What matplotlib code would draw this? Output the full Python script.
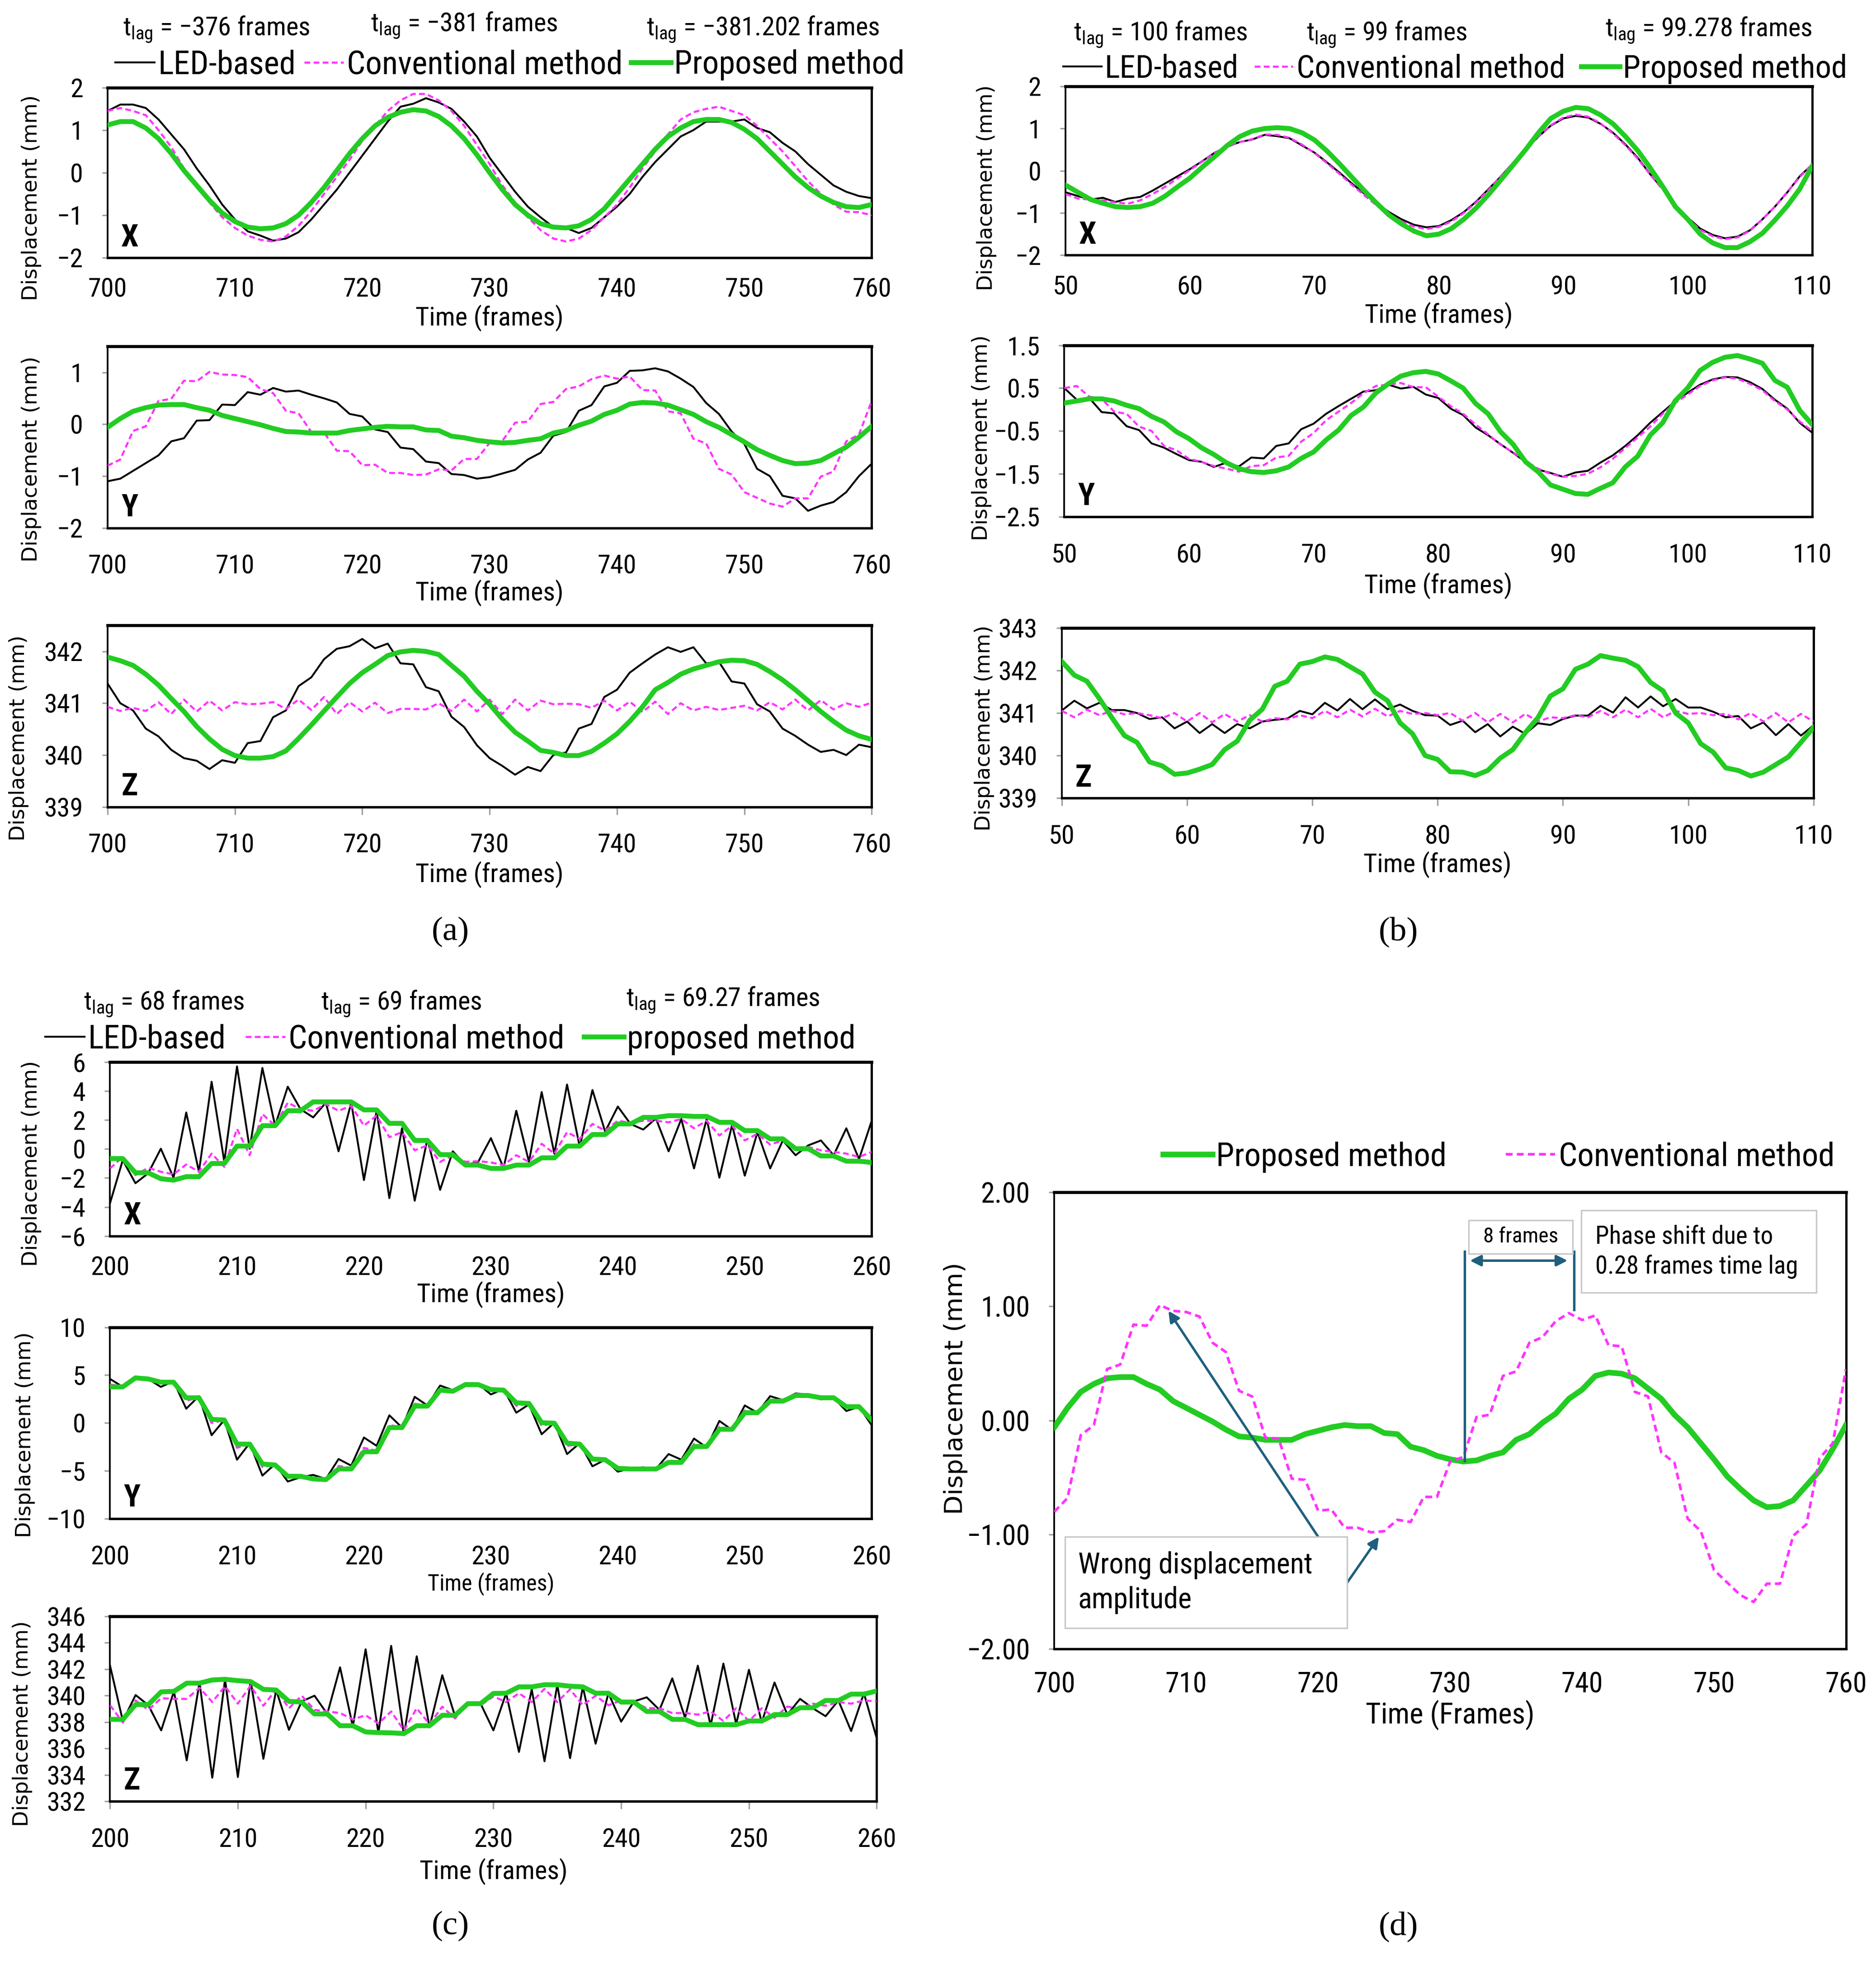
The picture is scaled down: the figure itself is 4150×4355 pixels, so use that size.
import numpy as np
import matplotlib
matplotlib.use("Agg")
import matplotlib.pyplot as plt
from matplotlib import font_manager
from matplotlib.patches import Rectangle
from matplotlib.ticker import FuncFormatter

# ---------------- data ----------------
frames_a = np.arange(700, 761)
frames_b = np.arange(50, 111)
frames_c = np.arange(200, 261)

# (a) X
a_x_led = [1.45, 1.60, 1.60, 1.52, 1.25, 0.90, 0.55, 0.10, -0.30, -0.75,
           -1.10, -1.38, -1.48, -1.60, -1.55, -1.40, -1.10, -0.75, -0.40, 0.00,
           0.40, 0.80, 1.20, 1.55, 1.62, 1.75, 1.65, 1.50, 1.20, 0.85,
           0.35, -0.05, -0.45, -0.80, -1.05, -1.28, -1.30, -1.42, -1.30, -1.05,
           -0.80, -0.50, -0.10, 0.25, 0.55, 0.85, 1.00, 1.20, 1.20, 1.20,
           1.25, 1.05, 0.95, 0.70, 0.50, 0.20, -0.05, -0.30, -0.45, -0.55,
           -0.60]
a_x_conv = [1.45, 1.52, 1.45, 1.35, 1.00, 0.60, 0.10, -0.35, -0.70, -1.05,
            -1.30, -1.48, -1.58, -1.62, -1.50, -1.25, -0.90, -0.50, -0.10, 0.30,
            0.75, 1.10, 1.45, 1.70, 1.85, 1.85, 1.70, 1.45, 1.10, 0.65,
            0.20, -0.30, -0.70, -1.05, -1.35, -1.55, -1.62, -1.55, -1.35, -1.05,
            -0.75, -0.35, 0.10, 0.50, 0.90, 1.25, 1.42, 1.50, 1.55, 1.45,
            1.35, 1.10, 0.80, 0.50, 0.15, -0.20, -0.50, -0.75, -0.92, -0.93,
            -1.00]
a_x_prop = [1.12, 1.20, 1.20, 1.05, 0.80, 0.45, 0.05, -0.30, -0.65, -0.95,
            -1.15, -1.28, -1.32, -1.30, -1.20, -1.00, -0.70, -0.35, 0.05, 0.45,
            0.80, 1.10, 1.30, 1.42, 1.48, 1.45, 1.32, 1.10, 0.80, 0.42,
            0.00, -0.40, -0.75, -1.00, -1.20, -1.28, -1.30, -1.25, -1.10, -0.85,
            -0.50, -0.15, 0.20, 0.55, 0.85, 1.05, 1.20, 1.25, 1.25, 1.18,
            1.02, 0.80, 0.50, 0.20, -0.10, -0.35, -0.55, -0.70, -0.80, -0.82,
            -0.75]
# (a) Y  (conventional / proposed are also the curves of panel (d))
a_y_led = [-1.10, -1.05, -0.90, -0.75, -0.60, -0.33, -0.27, 0.07, 0.08, 0.38,
           0.37, 0.62, 0.57, 0.70, 0.63, 0.65, 0.57, 0.50, 0.42, 0.20,
           0.15, -0.10, -0.15, -0.45, -0.48, -0.72, -0.75, -0.96, -0.98, -1.05,
           -1.02, -0.95, -0.88, -0.68, -0.55, -0.22, -0.15, 0.26, 0.37, 0.73,
           0.80, 1.03, 1.04, 1.08, 1.02, 0.88, 0.72, 0.41, 0.20, -0.14,
           -0.38, -0.86, -1.00, -1.38, -1.43, -1.67, -1.57, -1.50, -1.31, -1.00,
           -0.76]
a_y_conv = [-0.80, -0.68, -0.13, -0.04, 0.45, 0.49, 0.84, 0.83, 1.01, 0.96,
            0.95, 0.91, 0.68, 0.60, 0.26, 0.21, -0.15, -0.16, -0.51, -0.52,
            -0.79, -0.78, -0.94, -0.94, -0.98, -0.97, -0.87, -0.89, -0.67, -0.67,
            -0.36, -0.32, 0.03, 0.05, 0.39, 0.43, 0.68, 0.73, 0.87, 0.94,
            0.88, 0.92, 0.66, 0.65, 0.25, 0.21, -0.28, -0.37, -0.86, -0.97,
            -1.31, -1.42, -1.53, -1.59, -1.43, -1.43, -1.01, -0.91, -0.33, -0.20,
            0.45]
a_y_prop = [-0.06, 0.11, 0.25, 0.32, 0.37, 0.38, 0.38, 0.32, 0.27, 0.17,
            0.11, 0.05, -0.01, -0.08, -0.14, -0.15, -0.17, -0.17, -0.17, -0.12,
            -0.09, -0.06, -0.04, -0.05, -0.05, -0.11, -0.12, -0.23, -0.26, -0.31,
            -0.34, -0.36, -0.35, -0.31, -0.28, -0.17, -0.12, -0.02, 0.06, 0.19,
            0.27, 0.39, 0.42, 0.41, 0.37, 0.28, 0.19, 0.05, -0.06, -0.20,
            -0.34, -0.49, -0.60, -0.70, -0.76, -0.75, -0.70, -0.57, -0.44, -0.25,
            -0.04]
# (a) Z
a_z_led = [341.38, 341.00, 340.86, 340.51, 340.36, 340.10, 339.94, 339.89, 339.73, 339.90,
           339.85, 340.23, 340.27, 340.73, 340.86, 341.33, 341.50, 341.85, 342.05, 342.10,
           342.24, 342.06, 342.15, 341.77, 341.75, 341.31, 341.23, 340.74, 340.54, 340.19,
           339.94, 339.79, 339.62, 339.77, 339.69, 340.00, 340.05, 340.51, 340.60, 341.12,
           341.26, 341.59, 341.77, 341.94, 342.08, 341.99, 342.08, 341.77, 341.80, 341.42,
           341.38, 340.98, 340.84, 340.51, 340.37, 340.20, 340.06, 340.10, 340.00, 340.20,
           340.15]
a_z_conv = [340.93, 340.85, 340.91, 340.85, 341.02, 340.79, 341.07, 340.84, 341.05, 340.86,
            341.02, 340.98, 340.99, 341.02, 340.89, 341.07, 340.87, 341.12, 340.79, 341.02,
            340.84, 341.01, 340.81, 340.89, 340.89, 340.88, 341.00, 340.85, 341.07, 340.84,
            341.07, 340.79, 341.07, 340.86, 341.05, 340.98, 340.99, 340.98, 340.91, 341.05,
            340.86, 341.03, 340.83, 341.03, 340.79, 341.00, 340.86, 340.93, 340.87, 340.91,
            340.95, 340.86, 341.02, 340.88, 341.07, 340.86, 341.06, 340.88, 341.00, 340.93,
            341.01]
a_z_prop = [341.89, 341.82, 341.73, 341.56, 341.35, 341.09, 340.84, 340.55, 340.31, 340.11,
            339.99, 339.94, 339.94, 339.97, 340.08, 340.32, 340.58, 340.85, 341.12, 341.38,
            341.59, 341.75, 341.92, 341.99, 342.02, 342.00, 341.94, 341.73, 341.52, 341.23,
            340.98, 340.69, 340.44, 340.27, 340.09, 340.05, 339.99, 339.99, 340.07, 340.23,
            340.41, 340.65, 340.93, 341.26, 341.40, 341.56, 341.66, 341.73, 341.80, 341.83,
            341.82, 341.75, 341.61, 341.45, 341.26, 341.05, 340.84, 340.65, 340.48, 340.37,
            340.30]

# (b) X
b_x_led = [-0.51, -0.60, -0.68, -0.64, -0.74, -0.66, -0.62, -0.47, -0.30, -0.13,
           0.04, 0.23, 0.43, 0.57, 0.68, 0.74, 0.85, 0.82, 0.77, 0.60,
           0.43, 0.20, -0.04, -0.30, -0.54, -0.77, -0.98, -1.15, -1.28, -1.34,
           -1.31, -1.17, -0.98, -0.73, -0.43, -0.13, 0.20, 0.51, 0.81, 1.07,
           1.24, 1.30, 1.26, 1.11, 0.90, 0.62, 0.30, -0.09, -0.43, -0.81,
           -1.11, -1.37, -1.52, -1.60, -1.56, -1.41, -1.15, -0.85, -0.51, -0.13,
           0.15]
b_x_conv = [-0.55, -0.66, -0.68, -0.70, -0.75, -0.78, -0.70, -0.55, -0.38, -0.18,
            0.02, 0.22, 0.42, 0.58, 0.68, 0.75, 0.86, 0.85, 0.78, 0.62,
            0.42, 0.18, -0.07, -0.33, -0.58, -0.82, -1.03, -1.20, -1.32, -1.38,
            -1.33, -1.20, -1.00, -0.75, -0.45, -0.12, 0.20, 0.53, 0.82, 1.08,
            1.26, 1.33, 1.28, 1.12, 0.88, 0.60, 0.28, -0.10, -0.45, -0.83,
            -1.13, -1.40, -1.55, -1.62, -1.58, -1.42, -1.15, -0.85, -0.50, -0.15,
            0.15]
b_x_prop = [-0.34, -0.51, -0.68, -0.77, -0.85, -0.87, -0.85, -0.77, -0.60, -0.38,
            -0.17, 0.09, 0.34, 0.60, 0.81, 0.94, 1.00, 1.02, 1.00, 0.90,
            0.73, 0.47, 0.17, -0.15, -0.47, -0.77, -1.05, -1.26, -1.43, -1.54,
            -1.50, -1.37, -1.15, -0.88, -0.56, -0.21, 0.15, 0.51, 0.90, 1.24,
            1.41, 1.50, 1.47, 1.32, 1.11, 0.81, 0.47, 0.06, -0.38, -0.85,
            -1.15, -1.50, -1.71, -1.82, -1.82, -1.68, -1.48, -1.17, -0.83, -0.43,
            0.11]
# (b) Y
b_y_led = [0.50, 0.23, 0.27, -0.06, -0.09, -0.39, -0.48, -0.79, -0.89, -1.04,
           -1.18, -1.22, -1.34, -1.24, -1.33, -1.12, -1.14, -0.85, -0.79, -0.46,
           -0.33, -0.10, 0.08, 0.25, 0.42, 0.45, 0.58, 0.49, 0.53, 0.35,
           0.27, 0.02, -0.13, -0.42, -0.60, -0.81, -1.01, -1.22, -1.40, -1.48,
           -1.57, -1.47, -1.43, -1.24, -1.07, -0.85, -0.60, -0.31, -0.06, 0.19,
           0.39, 0.58, 0.70, 0.76, 0.75, 0.64, 0.48, 0.23, 0.02, -0.31,
           -0.54]
b_y_conv = [0.50, 0.55, 0.30, 0.25, -0.05, -0.10, -0.40, -0.50, -0.85, -0.95,
            -1.15, -1.22, -1.32, -1.38, -1.45, -1.32, -1.30, -1.12, -1.08, -0.75,
            -0.55, -0.25, -0.05, 0.15, 0.38, 0.55, 0.58, 0.62, 0.52, 0.52,
            0.30, 0.08, -0.10, -0.35, -0.58, -0.82, -1.00, -1.20, -1.38, -1.50,
            -1.57, -1.55, -1.50, -1.35, -1.15, -0.90, -0.65, -0.40, -0.10, 0.15,
            0.35, 0.55, 0.68, 0.75, 0.72, 0.60, 0.45, 0.20, 0.00, -0.28,
            -0.50]
b_y_prop = [0.15, 0.20, 0.25, 0.25, 0.20, 0.10, 0.02, -0.16, -0.29, -0.52,
            -0.68, -0.89, -1.05, -1.24, -1.38, -1.45, -1.47, -1.43, -1.34, -1.14,
            -0.99, -0.71, -0.48, -0.14, 0.06, 0.39, 0.60, 0.78, 0.86, 0.89,
            0.83, 0.67, 0.50, 0.14, -0.10, -0.52, -0.81, -1.22, -1.45, -1.76,
            -1.86, -1.96, -1.98, -1.84, -1.71, -1.34, -1.09, -0.60, -0.31, 0.20,
            0.50, 0.91, 1.10, 1.22, 1.26, 1.18, 1.08, 0.68, 0.52, -0.02,
            -0.35]
# (b) Z
b_z_led = [341.06, 341.29, 341.11, 341.24, 341.07, 341.07, 341.00, 340.86, 340.90, 340.64,
           340.80, 340.53, 340.74, 340.53, 340.74, 340.64, 340.80, 340.84, 340.87, 341.05,
           340.97, 341.24, 341.06, 341.33, 341.09, 341.32, 341.09, 341.20, 341.05, 340.95,
           340.94, 340.72, 340.82, 340.55, 340.74, 340.45, 340.68, 340.51, 340.76, 340.72,
           340.86, 340.94, 340.94, 341.17, 341.01, 341.37, 341.13, 341.39, 341.16, 341.33,
           341.13, 341.13, 341.03, 340.90, 340.93, 340.64, 340.78, 340.48, 340.74, 340.47,
           340.71]
b_z_conv = [341.05, 340.90, 341.08, 340.95, 341.05, 340.97, 341.00, 340.95, 340.88, 341.00,
            340.80, 341.00, 340.78, 340.98, 340.80, 340.95, 340.80, 340.88, 340.85, 340.95,
            340.88, 341.05, 340.90, 341.08, 340.92, 341.10, 340.92, 341.05, 340.98, 341.00,
            340.95, 341.00, 340.82, 341.00, 340.78, 340.98, 340.78, 340.98, 340.80, 340.90,
            340.88, 340.95, 340.90, 341.05, 340.90, 341.08, 340.90, 341.10, 340.90, 341.05,
            340.98, 341.00, 340.95, 340.98, 340.85, 341.00, 340.80, 341.00, 340.78, 340.98,
            340.80]
b_z_prop = [342.21, 341.89, 341.75, 341.34, 340.89, 340.47, 340.31, 339.85, 339.76, 339.56,
            339.59, 339.68, 339.79, 340.14, 340.34, 340.83, 341.09, 341.63, 341.75, 342.15,
            342.21, 342.32, 342.26, 342.09, 341.92, 341.49, 341.29, 340.77, 340.51, 340.00,
            339.91, 339.62, 339.61, 339.53, 339.65, 339.94, 340.14, 340.54, 340.89, 341.40,
            341.57, 342.03, 342.15, 342.35, 342.29, 342.24, 342.09, 341.72, 341.52, 341.00,
            340.77, 340.28, 340.08, 339.71, 339.65, 339.52, 339.61, 339.79, 339.97, 340.31,
            340.66]

# (c) X
c_x_led = [-3.73, -0.77, -2.36, -1.68, 0.02, -1.98, 2.52, -1.57, 4.64, -0.89,
           5.70, 0.02, 5.59, 1.61, 4.30, 2.75, 2.18, 3.20, -0.16, 3.20,
           -2.14, 2.64, -3.39, 1.43, -3.57, 0.70, -2.82, -0.16, -1.11, -0.89,
           0.75, -1.30, 2.64, -0.89, 3.93, -0.32, 4.45, 0.14, 4.07, 1.20,
           2.93, 1.73, 1.34, 2.11, -0.16, 2.07, -1.34, 2.07, -1.98, 1.66,
           -1.84, 1.16, -1.34, 0.59, -0.43, 0.25, 0.59, -0.43, 1.43, -0.70,
           1.95]
c_x_conv = [-1.34, -0.55, -1.80, -1.30, -1.57, -1.75, -1.07, -1.57, -0.32, -1.23,
            1.39, -0.43, 2.41, 1.61, 3.20, 2.75, 2.64, 3.09, 2.64, 2.98,
            1.61, 2.30, 0.82, 1.16, -0.09, 0.25, -0.89, -0.43, -0.89, -0.84,
            -0.93, -1.11, -0.43, -0.89, 0.36, -0.32, 1.16, 0.70, 1.73, 1.27,
            1.95, 1.80, 1.95, 1.95, 1.84, 2.07, 1.43, 1.95, 0.93, 1.61,
            0.59, 1.05, 0.30, 0.59, 0.02, 0.14, -0.09, -0.20, -0.32, -0.55,
            -0.20]
c_x_prop = [-0.66, -0.66, -1.64, -1.64, -2.05, -2.15, -1.91, -1.91, -1.00, -1.00,
            0.20, 0.20, 1.61, 1.61, 2.64, 2.64, 3.25, 3.25, 3.25, 3.25,
            2.70, 2.70, 1.77, 1.77, 0.59, 0.59, -0.39, -0.39, -1.11, -1.11,
            -1.34, -1.34, -1.11, -1.11, -0.61, -0.61, 0.20, 0.20, 1.00, 1.00,
            1.73, 1.73, 2.18, 2.18, 2.30, 2.30, 2.25, 2.25, 1.84, 1.84,
            1.27, 1.27, 0.70, 0.70, 0.02, 0.02, -0.48, -0.48, -0.84, -0.84,
            -0.93]
# (c) Y
c_y_led = [4.60, 3.77, 4.81, 4.60, 3.77, 4.36, 1.49, 2.80, -1.28, 0.31,
           -3.84, -2.11, -5.50, -4.29, -6.12, -5.67, -5.43, -5.85, -3.77, -4.46,
           -1.52, -2.39, 0.80, -0.48, 2.73, 1.83, 3.91, 3.43, 4.12, 4.08,
           2.98, 3.56, 1.07, 1.94, -1.18, 0.03, -3.25, -2.11, -4.53, -3.84,
           -5.09, -4.74, -4.64, -4.81, -3.25, -3.84, -1.63, -2.56, 0.21, -0.73,
           1.83, 1.07, 2.80, 2.39, 3.08, 2.98, 2.46, 2.63, 1.25, 1.70,
           -0.24]
c_y_conv = [4.00, 3.90, 4.70, 4.60, 4.10, 4.30, 2.30, 2.70, 0.00, 0.30,
            -2.60, -2.20, -4.60, -4.40, -5.70, -5.60, -5.70, -5.90, -4.50, -4.70,
            -2.60, -2.90, -0.20, -0.50, 2.00, 1.80, 3.60, 3.40, 4.00, 4.00,
            3.30, 3.50, 1.80, 2.00, -0.30, 0.00, -2.40, -2.20, -4.00, -3.80,
            -4.80, -4.80, -4.80, -4.80, -3.90, -4.10, -2.20, -2.50, -0.40, -0.70,
            1.30, 1.10, 2.40, 2.30, 2.90, 2.90, 2.60, 2.60, 1.60, 1.70,
            0.20]
c_y_prop = [3.77, 3.77, 4.71, 4.60, 4.26, 4.26, 2.63, 2.63, 0.38, 0.31,
            -2.21, -2.21, -4.29, -4.39, -5.57, -5.57, -5.85, -5.92, -4.81, -4.81,
            -3.01, -3.01, -0.48, -0.48, 1.76, 1.76, 3.43, 3.32, 4.01, 4.01,
            3.49, 3.43, 2.11, 2.04, 0.03, -0.03, -2.11, -2.21, -3.77, -3.84,
            -4.74, -4.81, -4.81, -4.81, -4.12, -4.12, -2.46, -2.46, -0.66, -0.66,
            1.07, 1.07, 2.28, 2.28, 2.87, 2.87, 2.63, 2.63, 1.70, 1.70,
            0.31]
# (c) Z
c_z_led = [342.26, 338.08, 340.04, 339.27, 337.37, 340.32, 335.10, 341.00, 333.79, 341.23,
           333.84, 341.13, 335.22, 340.42, 337.41, 339.56, 339.99, 338.61, 342.14, 337.65,
           343.50, 337.18, 343.76, 337.01, 342.97, 337.60, 341.54, 338.44, 339.39, 339.39,
           337.37, 340.18, 335.74, 340.47, 335.03, 340.82, 335.27, 340.66, 336.36, 340.18,
           338.03, 339.56, 339.87, 338.92, 341.30, 338.32, 342.26, 337.72, 342.42, 337.84,
           341.95, 337.96, 340.99, 338.56, 339.75, 339.04, 338.44, 339.63, 337.32, 340.18,
           336.77]
c_z_conv = [339.27, 337.96, 339.63, 338.92, 339.80, 339.75, 339.75, 340.59, 339.51, 340.71,
            339.39, 340.75, 339.23, 340.47, 339.04, 339.99, 338.92, 338.80, 338.68, 338.20,
            338.51, 337.89, 338.80, 337.37, 339.04, 337.84, 339.16, 338.27, 339.39, 339.27,
            339.94, 339.51, 340.18, 339.51, 340.51, 339.51, 340.47, 339.27, 339.99, 339.27,
            339.63, 339.51, 339.04, 339.04, 338.68, 338.68, 338.56, 338.80, 338.08, 339.04,
            338.08, 339.04, 338.32, 339.16, 339.04, 339.39, 339.23, 339.51, 339.39, 339.63,
            339.56]
c_z_prop = [338.20, 338.20, 339.32, 339.32, 340.28, 340.32, 340.94, 340.94, 341.18, 341.23,
            341.13, 341.06, 340.47, 340.42, 339.56, 339.51, 338.61, 338.61, 337.72, 337.72,
            337.25, 337.20, 337.18, 337.13, 337.72, 337.72, 338.51, 338.51, 339.39, 339.39,
            340.16, 340.18, 340.66, 340.66, 340.82, 340.82, 340.71, 340.66, 340.18, 340.18,
            339.51, 339.51, 338.80, 338.80, 338.20, 338.20, 337.80, 337.80, 337.80, 337.80,
            338.08, 338.08, 338.56, 338.56, 339.08, 339.08, 339.63, 339.63, 340.11, 340.11,
            340.35]

lags_a = ["\u2212376", "\u2212381", "\u2212381.202"]
lags_b = ["100", "99", "99.278"]
lags_c = ["68", "69", "69.27"]
labels_abc = ["LED-based", "Conventional method", "Proposed method"]
labels_c = ["LED-based", "Conventional method", "proposed method"]

# ---------------- fonts: prefer a condensed face (the original uses one) ----------------
entries = font_manager.fontManager.ttflist
fam_names = {f.name for f in entries}
NARROW, STRETCH, FS = None, "normal", 1.0
for cand, k in (("Liberation Sans Narrow", 1.0), ("Roboto Condensed", 1.0),
                ("Noto Sans Condensed", 1.0), ("Open Sans Condensed", 1.0)):
    if cand in fam_names:
        NARROW, FS = cand, k
        break
if NARROW is None:
    for fam in ("Noto Sans", "Roboto", "Open Sans"):
        cond = [f for f in entries if f.name == fam and f.stretch in ("condensed", "semi-condensed")]
        if cond:
            NARROW, STRETCH, FS = fam, cond[0].stretch, 1.0
            break
if NARROW is None:
    NARROW, FS = "Liberation Sans", 0.84

plt.rcParams["font.family"] = [NARROW, "DejaVu Sans"]
plt.rcParams["font.stretch"] = STRETCH
plt.rcParams["mathtext.fontset"] = "custom"
plt.rcParams["mathtext.rm"] = f"{NARROW}:stretch={STRETCH}"
plt.rcParams["mathtext.it"] = f"{NARROW}:stretch={STRETCH}"
plt.rcParams["axes.unicode_minus"] = True

LED_C = "black"
CONV_C = "#ff33ff"
PROP_C = "#22cc22"
TEAL = "#1f5f7d"

W, H = 1500.0, 1574.0          # layout grid in reference pixels


def fx(x):
    return x / W


def fy(y):
    return 1 - y / H


fig = plt.figure(figsize=(4150 / 300, 4355 / 300), dpi=300)


def style_axes(ax, xtick_len, size=14, xpad=14):
    for side, lw in (("top", 1.6), ("bottom", 1.3), ("left", 0.9), ("right", 1.2)):
        ax.spines[side].set_linewidth(lw)
        ax.spines[side].set_color("black")
    ax.tick_params(axis="y", length=3, width=0.8, color="#a0a0a0", pad=10, labelsize=size * FS)
    ax.tick_params(axis="x", length=xtick_len, width=0.8, color="#a0a0a0",
                   pad=xpad - xtick_len, labelsize=size * FS)


def draw_panel(pos, t, led, conv, prop, ylim, yticks, letter, xlabel_y, ylabel_xy,
               xlabel_size=14, xtick_len=0, xpad=14):
    l, top, r, b = pos
    ax = fig.add_axes([fx(l), fy(b), (r - l) / W, (b - top) / H])
    h1, = ax.plot(t, led, color=LED_C, lw=1.0, zorder=3)
    h2, = ax.plot(t, conv, color=CONV_C, lw=1.1, dashes=(2.8, 1.6), zorder=4)
    h3, = ax.plot(t, prop, color=PROP_C, lw=2.6, zorder=5)
    ax.set_xlim(t[0], t[-1])
    ax.set_ylim(*ylim)
    ax.set_yticks(yticks)
    ax.set_xticks(np.arange(t[0], t[-1] + 1, 10))
    style_axes(ax, xtick_len, xpad=xpad)
    ax.text(0.018, 0.03, letter, transform=ax.transAxes, fontsize=16.5 * FS,
            fontweight="bold", ha="left", va="bottom")
    fig.text(fx((l + r) / 2), fy(xlabel_y), "Time (frames)", ha="center", va="center",
             fontsize=xlabel_size * FS)
    fig.text(fx(ylabel_xy[0]), fy(ylabel_xy[1]), "Displacement (mm)", rotation=90,
             ha="center", va="center", family="DejaVu Sans", fontstretch="normal",
             fontsize=11)
    return ax, [h1, h2, h3]


def header(lags, xs, ys, legend_ax, handles, labels, leg_x, leg_y, leg_size, colspace):
    for lag, x, y in zip(lags, xs, ys):
        fig.text(fx(x), fy(y), r"$\mathrm{t_{lag}}$ = " + lag + " frames",
                 ha="center", va="center", fontsize=14 * FS)
    legend_ax.legend(handles, labels, loc="center left", bbox_to_anchor=(fx(leg_x), fy(leg_y)),
                     bbox_transform=fig.transFigure, ncol=3, frameon=False,
                     fontsize=leg_size * FS, handlelength=1.2, handletextpad=0.1,
                     columnspacing=colspace, borderpad=0, borderaxespad=0)


# ---------------- panel (a) ----------------
ax, hs = draw_panel((86, 70, 697, 206), frames_a, a_x_led, a_x_conv, a_x_prop,
                    (-2, 2), [-2, -1, 0, 1, 2], "X", 254, (25, 158), xpad=10.5)
header(lags_a, (173, 371, 610), (23, 20, 23), ax, hs, labels_abc, 92, 52, 17.5, 0.25)
draw_panel((86, 277, 697, 422), frames_a, a_y_led, a_y_conv, a_y_prop,
           (-2, 1.5), [-2, -1, 0, 1], "Y", 474, (25, 367))
draw_panel((86, 500, 697, 645), frames_a, a_z_led, a_z_conv, a_z_prop,
           (339, 342.5), [339, 340, 341, 342], "Z", 699, (15, 590), xtick_len=4)
fig.text(fx(360), fy(745), "(a)", ha="center", va="center", family="Liberation Serif",
         fontstretch="normal", fontsize=18)

# ---------------- panel (b) ----------------
ax, hs = draw_panel((852, 69, 1449, 204), frames_b, b_x_led, b_x_conv, b_x_prop,
                    (-2, 2), [-2, -1, 0, 1, 2], "X", 252, (789, 150), xpad=10.5)
header(lags_b, (928, 1109, 1366), (27, 27, 24), ax, hs, labels_abc, 850, 55, 17, 0.5)
draw_panel((851, 276, 1449, 413), frames_b, b_y_led, b_y_conv, b_y_prop,
           (-2.5, 1.5), [-2.5, -1.5, -0.5, 0.5, 1.5], "Y", 468, (785, 350))
draw_panel((849, 502, 1450, 638), frames_b, b_z_led, b_z_conv, b_z_prop,
           (339, 343), [339, 340, 341, 342, 343], "Z", 691, (787, 582), xtick_len=4)
fig.text(fx(1118), fy(745), "(b)", ha="center", va="center", family="Liberation Serif",
         fontstretch="normal", fontsize=18)

# ---------------- panel (c) ----------------
ax, hs = draw_panel((88, 849, 697, 988), frames_c, c_x_led, c_x_conv, c_x_prop,
                    (-6, 6), [-6, -4, -2, 0, 2, 4, 6], "X", 1035, (25, 930), xpad=10.5)
header(lags_c, (131, 321, 578), (802, 802, 799), ax, hs, labels_c, 36, 831, 17.5, 0.6)
draw_panel((88, 1061, 697, 1214), frames_c, c_y_led, c_y_conv, c_y_prop,
           (-10, 10), [-10, -5, 0, 5, 10], "Y", 1266, (20, 1147), xlabel_size=12)
draw_panel((88, 1292, 701, 1440), frames_c, c_z_led, c_z_conv, c_z_prop,
           (332, 346), [332, 334, 336, 338, 340, 342, 344, 346], "Z", 1496, (18, 1378),
           xtick_len=4)
fig.text(fx(360), fy(1540), "(c)", ha="center", va="center", family="Liberation Serif",
         fontstretch="normal", fontsize=18)

# ---------------- panel (d) ----------------
l, top, r, b = 843, 953, 1476, 1318
axd = fig.add_axes([fx(l), fy(b), (r - l) / W, (b - top) / H])
hp, = axd.plot(frames_a, a_y_prop, color=PROP_C, lw=3.0, zorder=3)
hc, = axd.plot(frames_a, a_y_conv, color=CONV_C, lw=1.4, dashes=(2.6, 1.6), zorder=4)
axd.set_xlim(700, 760)
axd.set_ylim(-2, 2)
axd.set_xticks(np.arange(700, 761, 10))
axd.set_yticks([-2, -1, 0, 1, 2])
axd.yaxis.set_major_formatter(FuncFormatter(lambda v, p: f"{v:.2f}".replace("-", "\u2212")))
style_axes(axd, 0, size=15)
axd.tick_params(axis="x", pad=12)
fig.text(fx((l + r) / 2), fy(1371), "Time (Frames)", ha="center", va="center",
         fontsize=15.5 * FS)
fig.text(fx(764), fy(1110), "Displacement (mm)", rotation=90, ha="center", va="center",
         family="DejaVu Sans", fontstretch="normal", fontsize=13.5)
axd.legend([hp, hc], ["Proposed method", "Conventional method"], loc="center left",
           bbox_to_anchor=(fx(930), fy(925)), bbox_transform=fig.transFigure, ncol=2,
           frameon=False, fontsize=17.5 * FS, handlelength=1.5, handletextpad=0.1,
           columnspacing=1.8, borderpad=0, borderaxespad=0)

box_kw = dict(facecolor="white", edgecolor="#c8c8c8", lw=0.8, zorder=6)
axd.add_patch(Rectangle((731.4, 1.46), 7.9, 0.295, **box_kw))
axd.text(735.35, 1.61, "8 frames", ha="center", va="center", fontsize=11.4 * FS, zorder=7)
axd.add_patch(Rectangle((739.95, 1.12), 17.8, 0.72, **box_kw))
axd.text(741.0, 1.48, "Phase shift due to\n0.28 frames time lag", ha="left", va="center",
         fontsize=13.2 * FS, linespacing=1.3, zorder=7)
axd.add_patch(Rectangle((700.8, -1.82), 21.4, 0.80, **box_kw))
axd.text(701.8, -1.42, "Wrong displacement\namplitude", ha="left", va="center",
         fontsize=15.4 * FS, linespacing=1.3, zorder=7)

axd.plot([731.1, 731.1], [-0.355, 1.48], color=TEAL, lw=1.3, zorder=5)
axd.plot([739.4, 739.4], [0.97, 1.48], color=TEAL, lw=1.3, zorder=5)
arrow = dict(color=TEAL, lw=1.3, mutation_scale=12, shrinkA=0, shrinkB=0)
axd.annotate("", xy=(738.9, 1.40), xytext=(731.5, 1.40),
             arrowprops=dict(arrowstyle="<|-|>", **arrow), zorder=5)
axd.annotate("", xy=(708.65, 0.96), xytext=(720.0, -1.02),
             arrowprops=dict(arrowstyle="-|>", **arrow), zorder=5)
axd.annotate("", xy=(724.6, -1.02), xytext=(722.2, -1.42),
             arrowprops=dict(arrowstyle="-|>", **arrow), zorder=5)
fig.text(fx(1118), fy(1540), "(d)", ha="center", va="center", family="Liberation Serif",
         fontstretch="normal", fontsize=18)

fig.savefig("out.png", dpi=300, facecolor="white")
